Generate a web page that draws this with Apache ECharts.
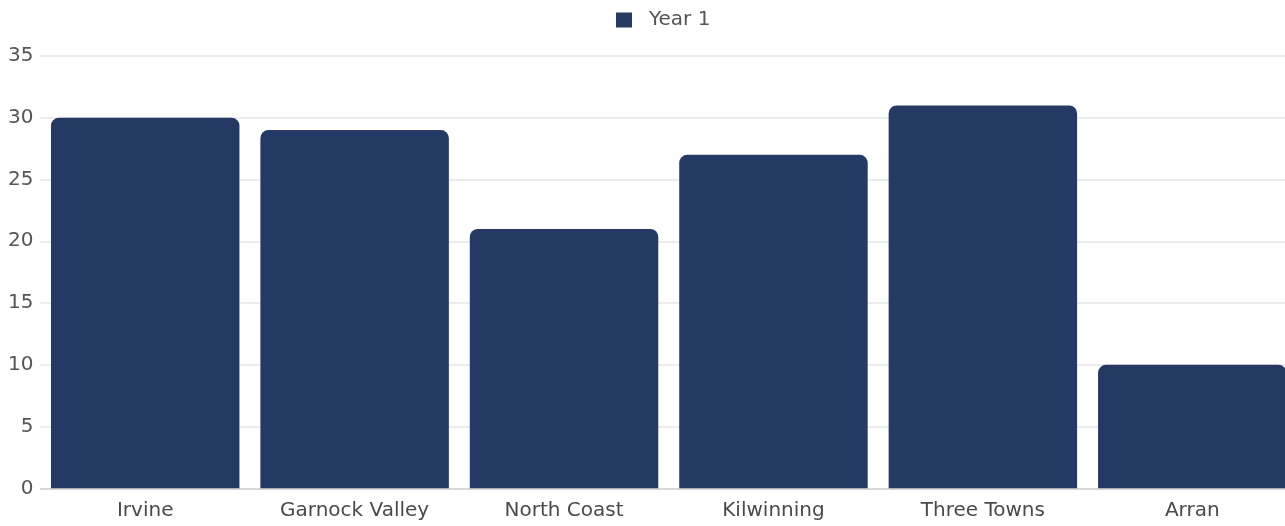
<!DOCTYPE html>
<html>
<head>
<meta charset="utf-8">
<script src="https://cdn.jsdelivr.net/npm/echarts@6/dist/echarts.min.js"></script>
<style>html,body{margin:0;padding:0;background:#fff}#c{width:1285px;height:526px}</style>
</head>
<body>
<div id="c"></div>
<script>
const categories = ['Irvine', 'Garnock Valley', 'North Coast', 'Kilwinning', 'Three Towns', 'Arran'];
const year1 = [30, 29, 21, 27, 31, 10];
const seriesName = 'Year 1';

const FONT = 'DejaVu Sans';
const chart = echarts.init(document.getElementById('c'));
chart.setOption({
  animation: false,
  textStyle: { fontFamily: FONT },
  legend: {
    top: 5,
    left: 611,
    itemWidth: 16,
    itemHeight: 15,
    itemGap: 10,
    icon: 'rect',
    textStyle: { fontSize: 20, color: '#555', fontFamily: FONT, padding: [0, 0, 0, 12] },
    data: [seriesName]
  },
  grid: { left: 40.5, right: -12, top: 56, bottom: 37.7, containLabel: false, outerBoundsMode: 'none' },
  xAxis: {
    type: 'category',
    data: categories,
    axisTick: { show: false },
    axisLine: { lineStyle: { color: '#cfcfcf', width: 1.5 } },
    axisLabel: { fontSize: 20, color: '#4a4a4a', margin: 12, fontFamily: FONT }
  },
  yAxis: {
    type: 'value',
    min: 0, max: 35, interval: 5,
    axisLine: { show: false },
    axisTick: { show: false },
    splitLine: { lineStyle: { color: '#e6e6e6', width: 1.5 } },
    axisLabel: { fontSize: 20, color: '#555', margin: 7, fontFamily: FONT }
  },
  series: [{
    name: seriesName,
    type: 'bar',
    data: year1,
    barCategoryGap: '10%',
    itemStyle: { color: '#243a64', borderRadius: [8, 8, 0, 0] }
  }]
});
</script>
</body>
</html>
